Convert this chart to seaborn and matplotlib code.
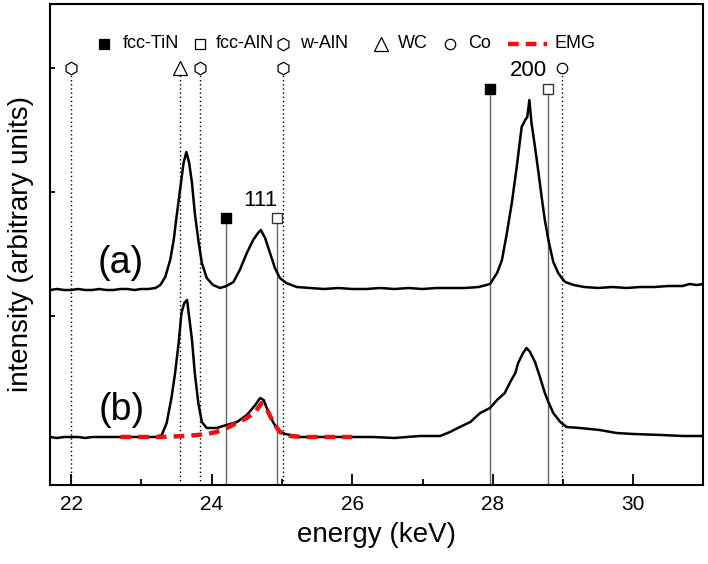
import matplotlib
matplotlib.use('Agg')
import matplotlib.pyplot as plt
import seaborn as sns

# energy (keV) and intensity (arbitrary units)
energy_a = [21.70, 21.80, 21.90, 22.00, 22.10, 22.20, 22.30, 22.40, 22.50, 22.60, 22.70, 22.80,
            22.90, 23.00, 23.10, 23.20, 23.27, 23.34, 23.41, 23.46, 23.50, 23.55, 23.60, 23.64,
            23.68, 23.72, 23.76, 23.81, 23.86, 23.93, 23.98, 24.02, 24.12, 24.21, 24.31, 24.40,
            24.50, 24.59, 24.66, 24.70, 24.76, 24.83, 24.90, 24.97, 25.06, 25.21, 25.40, 25.60,
            25.80, 26.00, 26.20, 26.40, 26.60, 26.80, 27.00, 27.20, 27.40, 27.60, 27.80, 27.96,
            28.06, 28.13, 28.20, 28.27, 28.34, 28.41, 28.46, 28.49, 28.52, 28.55, 28.60, 28.65,
            28.70, 28.74, 28.79, 28.86, 28.93, 28.98, 29.03, 29.15, 29.30, 29.50, 29.70, 29.90,
            30.10, 30.30, 30.50, 30.70, 30.80, 30.90, 31.00]
intens_a = [150, 151, 150, 150, 151, 150, 150, 151, 150, 150, 151, 151,
            150, 151, 151, 152, 155, 163, 180, 200, 223, 250, 277, 288,
            277, 257, 227, 200, 177, 162, 158, 155, 152, 154, 158, 170,
            187, 200, 207, 210, 202, 187, 172, 162, 157, 153, 152, 151,
            152, 151, 151, 152, 151, 152, 151, 152, 152, 152, 153, 156,
            167, 180, 207, 237, 273, 313, 320, 323, 340, 317, 293, 267,
            240, 220, 200, 178, 167, 162, 158, 155, 153, 152, 153, 152,
            153, 153, 154, 154, 156, 155, 156]

energy_b = [21.70, 21.80, 21.90, 22.00, 22.10, 22.20, 22.30, 22.40, 22.50, 22.60, 22.70, 22.80,
            22.90, 23.00, 23.10, 23.20, 23.29, 23.36, 23.43, 23.48, 23.53, 23.57, 23.61, 23.65,
            23.68, 23.72, 23.76, 23.81, 23.86, 23.93, 24.07, 24.21, 24.36, 24.50, 24.62, 24.69,
            24.74, 24.81, 24.88, 24.97, 25.05, 25.12, 25.26, 25.50, 25.80, 26.00, 26.30, 26.60,
            26.96, 27.15, 27.25, 27.32, 27.39, 27.53, 27.68, 27.82, 27.96, 28.06, 28.17, 28.24,
            28.32, 28.36, 28.43, 28.48, 28.53, 28.60, 28.67, 28.74, 28.79, 28.86, 28.96, 29.05,
            29.24, 29.52, 29.76, 30.00, 30.40, 30.70, 31.00]
intens_b = [3, 2, 3, 3, 3, 2, 3, 3, 3, 3, 3, 3,
            3, 3, 3, 3, 5, 17, 43, 67, 97, 127, 137, 140,
            123, 100, 67, 37, 18, 12, 12, 15, 18, 25, 35, 42,
            40, 27, 17, 8, 6, 5, 3, 3, 3, 3, 3, 2,
            4, 4, 4, 6, 8, 13, 18, 27, 32, 40, 47, 57,
            67, 77, 87, 92, 88, 78, 63, 47, 38, 27, 18, 13,
            12, 10, 7, 6, 5, 4, 4]

# EMG fit of the 111 region of (b)
energy_emg = [22.70, 23.00, 23.30, 23.60, 23.80, 23.93, 24.07, 24.21, 24.36, 24.50, 24.62,
              24.71, 24.79, 24.88, 24.97, 25.12, 25.30, 25.60, 26.00]
intens_emg = [3, 3, 3, 4, 5, 6, 8, 12, 17, 22, 28, 37, 30, 17, 8, 4, 3, 3, 3]

# reference line positions (keV)
tin_pos = [24.21, 27.96]
aln_pos = [24.93, 28.79]
square_h = [222, 351]
waln_pos = [22.00, 23.83, 25.02]
wc_pos = [23.55]
co_pos = [28.99]
top_h = 372

sns.set_style('ticks')
plt.rcParams['font.family'] = ['Liberation Sans', 'DejaVu Sans']
plt.rcParams.update({'text.color': 'black', 'axes.labelcolor': 'black',
                     'xtick.color': 'black', 'ytick.color': 'black',
                     'axes.edgecolor': 'black'})

fig = plt.figure(figsize=(7.08, 5.64), dpi=100)
ax = fig.add_axes([50 / 708, 79 / 564, 653 / 708, 481 / 564])
ybot, ytop = -45, 436

# solid lines for fcc phases
ax.vlines(tin_pos + aln_pos, ybot, square_h + square_h, color='#666666', lw=1.0, zorder=1)
ax.plot(tin_pos, square_h, 's', ms=7.5, mfc='black', mec='black', zorder=4)
ax.plot(aln_pos, square_h, 's', ms=7.5, mfc='white', mec='#333333', mew=1, zorder=4)

# dotted lines for w-AlN, WC, Co
dotted = waln_pos + wc_pos + co_pos
ax.vlines(dotted, ybot, top_h - 6, color='black', lw=1.0, linestyles=(0, (1, 2)), zorder=1)
ax.plot(waln_pos, [top_h] * len(waln_pos), 'h', ms=9, mfc='white', mec='black', mew=0.9)
ax.plot(wc_pos, [top_h] * len(wc_pos), '^', ms=9.5, mfc='white', mec='black', mew=0.9)
ax.plot(co_pos, [top_h] * len(co_pos), 'o', ms=7.5, mfc='white', mec='black', mew=0.9)

sns.lineplot(x=energy_a, y=intens_a, color='black', lw=1.8, ax=ax, zorder=3)
sns.lineplot(x=energy_b, y=intens_b, color='black', lw=1.8, ax=ax, zorder=3)
sns.lineplot(x=energy_emg, y=intens_emg, color='#ee1111', lw=3.2,
             linestyle=(0, (2.4, 1.6)), ax=ax, zorder=5)

ax.text(22.70, 177, '(a)', fontsize=27, ha='center', va='center')
ax.text(22.72, 30, '(b)', fontsize=27, ha='center', va='center')
ax.text(24.69, 240, '111', fontsize=16, ha='center', va='center')
ax.text(28.50, 370, '200', fontsize=16, ha='center', va='center')

# legend row
ly = 0.917
items = [('s', 'black', 104, 123, 'fcc-TiN', 7.5),
         ('s', 'white', 200, 216, 'fcc-AlN', 7.5),
         ('h', 'white', 283, 300, 'w-AlN', 9),
         ('^', 'white', 381, 398, 'WC', 10),
         ('o', 'white', 450, 468, 'Co', 7.5)]
for mk, fc, mx, tx, lab, ms in items:
    ax.plot((mx - 50) / 653, ly, mk, ms=ms, mfc=fc, mec='black', mew=0.9,
            transform=ax.transAxes, clip_on=False)
    ax.text((tx - 50) / 653, ly, lab, fontsize=13, va='center', transform=ax.transAxes)
ax.plot([(508 - 50) / 653, (547 - 50) / 653], [ly, ly], color='#ee1111', lw=3.2,
        linestyle=(0, (2.4, 1.6)), transform=ax.transAxes)
ax.text((554 - 50) / 653, ly, 'EMG', fontsize=13, va='center', transform=ax.transAxes)

ax.set_xlim(21.70, 30.99)
ax.set_ylim(ybot, ytop)
ax.set_xticks([22, 24, 26, 28, 30])
ax.set_xticks([23, 25, 27, 29], minor=True)
ax.set_yticks([124, 248, 372])
ax.set_yticklabels([])
ax.tick_params(axis='x', which='major', direction='in', length=8, width=1.3, labelsize=15, pad=7)
ax.tick_params(axis='x', which='minor', direction='in', length=4, width=1.3)
ax.tick_params(axis='y', direction='in', length=3.5, width=1.3)
for s in ax.spines.values():
    s.set_linewidth(1.5)
ax.set_xlabel('energy (keV)', fontsize=20, labelpad=6)
ax.set_ylabel('intensity (arbitrary units)', fontsize=20, labelpad=8)

fig.savefig('out.png', dpi=100)
